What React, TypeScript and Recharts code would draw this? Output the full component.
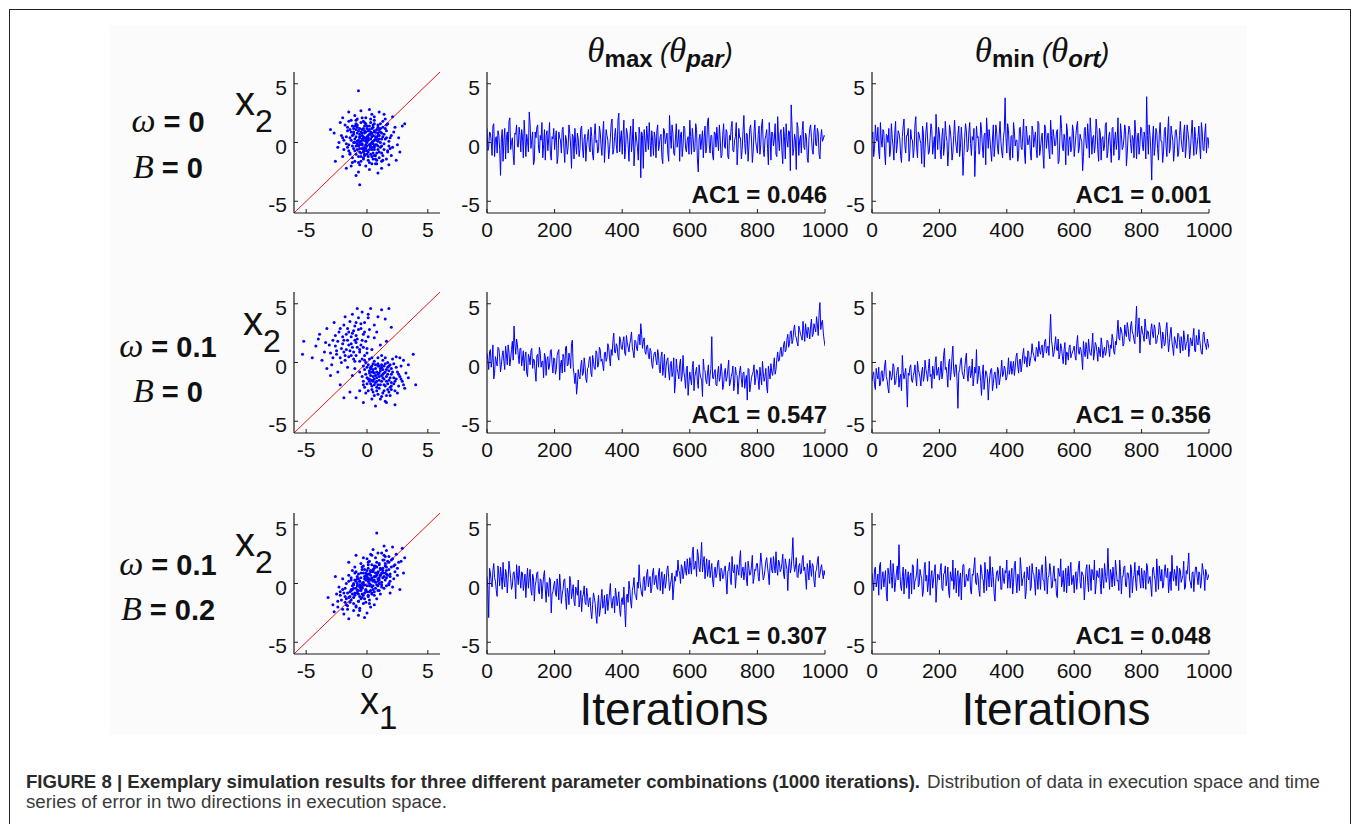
import { LineChart, Line, ScatterChart, Scatter, XAxis, YAxis, ReferenceLine } from 'recharts'

// shared ticks
const iterationTicks = [0, 200, 400, 600, 800, 1000]
const valueTicks = [-5, 0, 5]

// row parameters and lag-1 autocorrelations
const omegaValues = ['0', '0.1', '0.1']
const bValues = ['0', '0', '0.2']
const ac1Max = ['0.046', '0.547', '0.307']
const ac1Min = ['0.001', '0.356', '0.048']

// theta_max (parallel) error at iterations 0, 5, 10 ... 1000
const thetaMaxRow1 = [
  1.2, -0.4, 0.8, -1.1, 1.6, 0.3, -0.9, 0.6, -2.8, 1.1, 0.2, -1.4, 0.9, 1.8, -0.6, 0.4, -1.9, 0.7, -0.3, 1.3,
  -0.8, 0.5, 1.9, -1.2, 0.1, 2.6, -0.5, 0.9, -1.6, 0.4, 1.5, -0.9, 0.2, -1.3, 1.1, 0.6, -0.7, 1.7, -1.5, 0.3,
  -0.6, 1.0, -1.2, 0.4, -0.9, 1.3, -1.7, 0.2, -0.4, 0.8, -2.2, 0.5, 1.2, -1.0, 0.3, -0.6, 1.4, -1.3, 0.7, -0.2,
  1.1, -0.8, 0.5, -1.5, 1.6, 0.2, -0.7, 0.9, -1.1, 1.8, -0.3, 0.6, -1.4, 0.4, 2.0, -0.6, 1.2, -0.9, 2.5, 0.3,
  -1.0, 1.9, -0.5, 0.8, -1.6, 1.4, 0.1, -2.0, 0.9, -0.4, 1.3, -3.0, 0.6, 1.1, -0.8, 0.4, 1.7, -1.2, 0.2, 0.9,
  -1.3, 1.5, -0.2, 0.7, -1.8, 1.0, 0.3, -0.9, 2.3, -0.5, 0.8, -1.1, 1.6, 0.1, -1.6, 0.9, -0.3, 1.2, -0.8, 0.5,
  1.9, -1.0, 0.4, -0.6, 1.1, -2.5, 0.7, 0.2, -1.3, 1.4, -0.4, 2.1, -0.9, 0.6, -1.5, 0.8, 1.3, -0.7, 0.3, -1.1,
  1.6, -0.5, 0.9, -1.4, 0.2, 1.8, -0.8, 0.5, -1.9, 1.2, 0.4, -0.6, 2.3, -1.0, 0.7, -0.3, 1.5, -1.7, 0.9, 0.1,
  -0.9, 1.4, -0.2, 2.0, -1.2, 0.6, -0.5, 1.7, -1.5, 0.8, 0.3, -1.0, 2.2, -0.7, 1.1, -1.8, 0.5, 1.6, -0.4, 0.9,
  3.2, -1.1, 0.7, -2.3, 1.3, 0.2, -0.9, 1.8, -0.6, 0.5, -1.7, 1.2, 0.4, -1.0, 1.5, -0.3, 0.8, -1.4, 1.1, 0.3, 0.5,
]
// ... and at the half steps 2.5, 7.5 ... 997.5
const thetaMaxRow1Half = [
  -0.7, 0.9, 0.1, 1.4, -1.2, 0.5, 1.0, -0.6, 0.3, -1.6, 1.2, 0.4, -0.9, 2.1, 0.0, -1.0, 0.8, 1.5, -0.4, 0.6,
  1.1, -1.3, 0.4, 0.7, -0.8, 1.6, 0.2, -1.9, 0.9, 1.3, -0.5, 0.6, 1.7, -0.2, -1.5, 1.0, 0.3, -0.9, 0.5, 1.2,
  0.4, -1.8, 0.9, 0.2, 1.1, -0.5, 0.6, -1.0, 1.5, -0.3, 0.7, -1.4, -0.1, 0.8, -1.2, 1.2, -0.4, 0.3, -1.6, 0.5,
  -0.4, 1.3, -1.1, 0.6, 0.0, -0.9, 1.4, -0.3, 0.8, -1.7, 1.1, 0.2, -0.6, 1.6, -1.0, 0.5, -0.2, 1.9, -0.8, 1.0,
  0.6, -1.4, 1.2, -0.2, 0.4, -0.8, 2.0, -0.5, 0.3, -1.5, 0.7, 0.9, -2.2, 0.2, 1.4, -0.6, 0.1, 1.0, -1.1, 0.4,
  1.0, -0.7, 0.5, -1.3, 1.2, -0.1, 0.8, -1.6, 0.6, 1.5, -0.9, 0.3, -0.4, 1.1, 0.7, -1.2, 1.4, -0.5, 0.2, -1.0,
  0.5, 1.2, -0.8, 1.6, -1.4, 0.3, -0.6, 1.0, 0.4, -0.9, 1.8, -0.2, 0.6, -1.1, 0.9, -0.4, 0.2, 1.5, -1.3, 0.7,
  -0.3, 1.1, -1.2, 0.6, 1.3, -0.7, 0.2, 1.7, -0.5, 0.4, -1.4, 1.0, -0.1, 0.8, -1.6, 1.2, 0.3, -0.8, 1.9, -0.4,
  0.7, -1.0, 1.5, -0.6, 0.3, 1.1, -1.9, 0.5, 0.9, -0.3, 1.6, -1.2, 0.4, 0.8, -0.7, 1.3, -1.4, 0.2, 1.0, -2.4,
  1.4, -0.5, 0.2, 1.7, -1.1, 0.6, 1.0, -0.4, 0.8, -1.3, 0.3, 1.5, -0.7, 0.9, -0.2, 1.2, -1.0, 0.5, 0.1, 0.6,
]
const thetaMaxRow2 = [
  0.8, -0.6, 1.1, 0.2, -1.4, 0.5, -0.3, 1.2, -0.8, 0.6, 0.1, 1.4, -0.2, 0.9, 0.3, 1.8, 3.1, 0.7, 1.5, -0.1,
  1.2, 0.3, -0.7, 0.9, -1.2, 0.4, 1.0, -0.5, 0.2, -1.6, 0.7, 1.3, -0.4, 0.1, 0.8, -1.1, 0.5, -0.3, 1.1, -0.9,
  0.3, -0.6, 0.9, -1.5, 0.2, 0.7, -0.8, 1.4, -0.2, 0.4, 1.6, -0.4, -1.8, -2.7, -0.6, -1.4, 0.2, -0.9, -0.3, -1.7,
  -0.4, 0.5, -1.2, 0.1, -0.6, 0.8, -0.2, 1.1, 0.3, -0.7, 0.9, 0.4, 1.3, -0.3, 0.6, 2.5, 0.8, 1.4, 0.2, 1.9,
  1.1, 2.2, 0.6, 1.7, 0.9, 2.0, 1.3, 0.4, 1.8, 1.0, 2.4, 3.3, 1.2, 2.1, 0.7, 1.5, 0.3, 1.0, -0.5, 0.8,
  0.2, 1.1, -0.6, 0.5, -1.1, 0.7, -0.3, 0.4, -1.5, 0.1, -0.8, -2.6, 0.3, -0.9, -0.2, -1.6, 0.6, -1.3, -0.5, -2.8,
  -0.8, -1.9, 0.1, -1.2, -0.4, -2.2, -0.9, -1.5, 0.3, -0.7, -1.8, -0.2, -1.1, 2.2, -1.4, -0.6, -2.0, -0.3, -1.2, -0.8,
  -1.9, -0.5, -1.3, 0.2, -1.7, -0.9, -2.4, -0.4, -1.1, -1.6, -0.3, -2.1, -0.8, -1.5, -3.2, -0.6, -1.9, -1.0, -0.2, -1.4,
  -0.7, -2.3, -1.2, 0.1, -1.6, -0.5, -2.6, -0.9, -0.1, -1.1, 0.4, -0.6, 0.9, 0.2, 1.3, 0.6, 1.8, 1.1, 2.4, 1.6,
  2.7, 1.9, 3.2, 2.1, 1.4, 2.8, 2.2, 3.5, 1.8, 2.6, 3.0, 2.0, 3.7, 2.4, 2.9, 3.9, 2.3, 5.1, 3.4, 2.5, 1.4,
]
const thetaMaxRow2Half = [
  0.2, 0.9, -0.4, 1.5, -0.9, 0.1, 1.3, 0.4, -0.2, 1.0, -0.6, 0.7, 1.5, -0.3, 1.1, 0.2, 1.6, 2.0, 0.6, 1.2,
  -0.3, 1.0, 0.5, -0.9, 0.7, -0.2, 1.2, 0.3, -0.8, 0.6, -0.4, 0.9, 0.1, -1.3, 0.5, 0.2, -0.6, 1.0, -0.1, 0.4,
  -1.0, 0.6, 1.1, -0.2, -0.9, 0.4, 1.3, -0.3, 0.8, -0.5, 1.9, -1.0, -0.9, -1.9, -1.2, -0.3, -1.1, 0.4, -1.4, -0.5,
  0.3, -0.9, 0.6, -0.5, 1.0, -0.4, 1.3, 0.1, -0.2, 0.8, 0.1, 1.6, 0.4, 1.1, 1.8, 0.9, 1.6, 0.5, 2.2, 1.2,
  1.8, 0.8, 2.3, 1.3, 1.6, 2.6, 0.9, 1.9, 1.2, 2.2, 1.5, 2.4, 1.8, 0.9, 1.4, 0.6, 1.2, -0.1, 0.4, 0.9,
  -0.2, 0.6, -0.9, 0.9, -0.4, -1.3, 0.2, -0.8, -0.1, -1.2, 0.4, -1.7, -0.5, -1.4, 0.3, -1.1, -0.8, -2.2, -0.3, -1.6,
  -1.4, -0.4, -2.4, -0.8, -1.6, -0.2, -1.3, -2.9, -0.6, -1.5, -0.9, -2.0, -0.5, -1.3, -0.8, -1.9, -0.9, -1.6, -0.1, -2.3,
  -0.9, -1.6, -0.6, -2.0, -1.2, -0.3, -1.8, -1.0, -2.7, -0.7, -1.4, -0.9, -2.2, -1.1, -0.5, -2.5, -1.3, -0.8, -1.9, -0.6,
  -1.5, -0.4, -1.9, -0.9, -1.2, -2.1, -0.3, -1.4, -0.8, -0.4, -1.0, 0.3, 0.1, 1.0, 0.5, 1.5, 0.9, 2.0, 1.3, 2.6,
  1.6, 2.8, 2.3, 1.7, 3.1, 2.4, 1.9, 2.6, 3.3, 2.1, 2.7, 3.1, 2.2, 3.3, 2.6, 3.2, 4.2, 2.8, 3.6, 1.9,
]
const thetaMaxRow3 = [
  0.6, -2.9, 0.9, -0.3, 1.7, 0.2, -1.1, 0.8, 1.4, -0.5, 0.3, 1.2, -0.8, 1.9, 0.4, -0.2, 1.0, -1.3, 0.7, 1.5,
  -0.4, 0.9, 0.1, -1.2, 1.3, 0.5, -0.6, 0.8, -1.5, 0.2, 1.0, -0.9, 0.3, -0.2, 1.1, -1.6, -0.4, 0.5, -2.5, -0.7,
  0.2, -1.1, -0.3, 0.8, -1.7, -0.5, 0.4, -2.2, -0.8, 0.6, -1.3, -0.1, -1.9, -0.6, 0.3, -1.4, -2.4, -0.9, -1.6, -0.4,
  -2.0, -1.2, -3.0, -0.8, -1.7, -3.4, -1.0, -2.3, -0.5, -1.8, -2.6, -0.9, -1.5, 0.0, -2.1, -1.1, -0.4, -1.9, -0.7, -2.8,
  -1.2, -0.3, -3.7, -0.9, 0.2, -1.5, -0.6, 0.5, -1.0, 0.1, 1.6, -0.4, -1.1, 0.6, -0.2, 1.2, 0.3, -0.8, 0.9, -0.1,
  0.7, -0.5, 1.3, 0.4, -0.9, 0.8, 0.1, 1.5, -0.6, 0.3, -1.4, 0.6, 1.1, 2.0, 0.9, 1.6, 0.4, 1.9, 0.7, 1.3,
  2.2, 0.8, 3.1, 1.5, 0.6, 2.4, 1.0, 3.5, 1.8, 0.4, 2.1, 1.2, 0.5, 1.7, -0.3, 1.4, 0.8, 2.0, 0.2, 1.1,
  0.6, 1.5, -0.9, 1.2, 0.4, 2.3, 0.9, -0.4, 1.6, 0.7, 2.8, 1.0, 0.3, 1.8, -0.2, 1.3, 0.8, 2.4, 0.5, 1.1,
  1.7, 0.2, 2.6, 1.0, 0.6, 1.9, 1.4, -0.1, 2.2, 0.9, 1.5, 2.7, 0.7, 1.8, 1.2, 2.5, 0.4, 1.6, -0.6, 2.1,
  1.3, 3.9, 1.0, 2.2, 0.5, 1.7, 0.9, 2.4, 1.4, -0.5, 1.1, 2.0, 0.6, 1.5, -0.3, 1.2, 2.3, 0.8, 1.6, 0.4, 0.7,
]
const thetaMaxRow3Half = [
  -0.4, 1.3, 0.1, 1.1, 0.5, -0.6, 1.5, -0.2, 0.6, 1.8, -0.3, 0.8, 0.4, 1.2, -0.5, 0.9, 0.2, 1.6, -0.1, 0.5,
  1.0, -0.6, 0.8, 0.3, -0.4, 1.2, -1.0, 0.5, -0.2, 0.9, -0.7, 0.4, -1.3, 0.6, -0.5, 0.1, -1.1, 0.3, -0.9, -0.2,
  -0.8, 0.4, -1.4, -0.2, -0.9, 0.3, -1.2, -0.4, -1.8, 0.1, -0.7, -1.5, -0.3, -1.0, -2.0, -0.6, -1.2, -0.2, -1.8, -1.1,
  -1.4, -2.4, -1.8, -1.2, -2.7, -1.9, -2.8, -1.4, -2.1, -1.0, -1.7, -2.3, -0.8, -1.6, -1.3, -2.5, -1.0, -1.4, -2.2, -1.5,
  -1.8, -2.2, -1.1, -1.6, -0.5, -2.1, -0.2, -0.9, -1.4, -0.4, 0.2, -0.9, 0.4, -0.6, 0.8, -0.3, 0.6, -0.4, 1.3, 0.3,
  -0.3, 0.9, -0.6, 1.0, 0.2, -0.4, 1.2, 0.5, -0.1, 0.9, -0.4, 0.2, 0.6, 1.1, 0.0, 1.4, 0.9, 1.1, 2.1, 0.8,
  1.5, 2.6, 1.2, 1.9, 2.9, 1.3, 2.2, 1.0, 2.3, 1.4, 0.6, 2.0, 1.1, 0.3, 1.0, 0.5, 1.8, 0.9, 1.3, 0.4,
  1.3, 0.2, 1.0, 1.8, -0.1, 1.1, 1.6, 0.6, 1.2, 2.1, 0.5, 1.4, 1.0, 0.4, 1.9, 0.7, 1.5, 0.0, 1.2, 1.7,
  0.6, 1.4, 1.8, 0.3, 1.2, 2.2, 0.8, 1.6, 1.1, 2.3, 0.9, 1.3, 2.0, 1.0, 1.7, 0.8, 2.1, 1.2, 1.4, 0.9,
  2.4, 1.7, 1.4, 0.6, 1.5, 0.8, 2.0, 1.1, 0.5, 1.7, 0.3, 1.3, 1.7, 0.2, 1.0, 1.9, 0.5, 1.3, 0.9, 1.1,
]

// theta_min (orthogonal) error, same sampling
const thetaMinRow1 = [
  0.3, -1.2, 1.5, 0.1, -0.8, 1.7, -0.4, 0.9, -1.9, 0.6, 1.2, -0.7, 0.4, -1.5, 1.8, -0.2, 0.8, -1.1, 0.5, 2.0,
  -0.9, 0.6, -1.6, 1.1, 0.2, -0.5, 2.2, -1.3, 0.7, -0.1, 1.4, -2.1, 0.9, 0.3, -0.8, 1.6, -1.0, 0.5, 2.4, -0.6,
  0.8, -1.4, 1.2, -0.3, 0.6, -2.0, 1.5, 0.1, -0.9, 1.9, -0.4, 0.7, -1.2, 1.3, -2.8, 0.4, 1.0, -0.6, 1.7, -1.1,
  0.2, -2.9, 1.4, 0.5, -0.7, 1.1, -1.3, 0.8, 2.1, -0.5, 0.3, -1.6, 1.5, -0.2, 0.9, -1.0, 1.8, -0.8, 0.4, 3.8,
  -0.9, 1.0, -1.5, 0.6, 1.7, -0.3, 0.2, -1.1, 1.3, -0.6, 2.0, -1.8, 0.7, 0.1, -0.9, 1.4, -0.4, 0.9, -1.3, 1.6,
  -0.5, 0.8, -2.2, 1.2, 0.3, -0.7, 1.9, -1.0, 0.5, -0.2, 1.1, -1.6, 2.3, -0.4, 0.7, -1.9, 0.9, 0.2, -0.8, 1.5,
  -1.2, 0.6, 1.8, -0.5, 0.3, -2.4, 1.0, -0.1, 1.6, -1.3, 0.8, 0.4, -0.9, 2.0, -0.6, 1.2, -1.5, 0.5, -0.3, 1.7,
  -0.8, 0.9, -1.7, 1.3, 0.2, -0.6, 2.1, -1.1, 0.7, -0.4, 1.5, -2.0, 0.6, 1.1, -0.9, 0.3, 1.9, -1.4, 0.8, -0.2,
  1.2, -0.7, 0.4, 3.9, -1.0, 0.6, -3.2, 1.4, -0.3, 0.9, -1.5, 1.7, 0.1, -0.8, 1.3, -1.2, 2.2, -0.5, 0.7, -1.6,
  1.0, 0.3, -0.9, 1.8, -0.4, 0.8, -1.3, 1.5, 0.2, -0.6, 1.9, -1.1, 0.5, -0.2, 1.4, -1.4, 0.9, -0.7, 1.6, 0.4, -0.5,
]
const thetaMinRow1Half = [
  0.9, -0.5, 0.4, 1.3, -1.4, 0.2, 1.1, -0.8, 0.7, 0.0, -1.2, 1.6, -0.3, 0.8, -0.9, 1.0, 0.3, -1.7, 1.4, -0.2,
  0.6, 1.2, -0.7, 0.3, -1.3, 1.5, -0.4, 0.9, 0.2, -1.8, 0.8, -0.5, 1.7, -1.0, 0.4, 1.1, -0.2, -1.4, 0.7, 1.3,
  -0.6, 0.5, -1.1, 1.8, 0.1, -0.7, 1.0, -1.5, 0.6, 0.3, -0.9, 1.4, -0.4, 0.2, -1.2, 1.6, -0.8, 0.9, -0.1, 0.5,
  1.2, -0.6, 0.4, -1.0, 1.7, -0.3, 0.6, -1.9, 0.8, 1.1, -0.7, 0.3, -1.2, 1.5, -0.5, 0.7, 0.1, -1.3, 1.0, 0.4,
  1.6, -0.8, 0.5, -1.3, 0.9, 0.2, -1.6, 1.2, -0.4, 0.7, -0.9, 1.4, -0.2, 0.6, -1.5, 1.0, 0.4, -0.6, 1.8, -1.1,
  0.3, -1.0, 1.5, -0.5, 0.8, -1.4, 0.6, 1.1, -0.3, 0.9, -1.8, 0.4, 1.2, -0.7, 0.2, 1.6, -1.1, 0.5, -0.4, 1.0,
  -0.3, 1.4, -0.9, 0.7, 0.1, -1.2, 1.3, -0.5, 0.4, 2.1, -1.0, 0.6, -0.2, 1.1, -1.6, 0.8, 0.3, -0.7, 1.5, -1.3,
  0.5, -0.4, 1.2, -1.1, 0.9, 0.2, -1.5, 1.6, -0.6, 0.3, 1.0, -0.9, 1.4, -0.1, 0.6, -1.3, 0.8, 0.4, -1.0, 1.3,
  -0.2, 0.9, -1.4, 0.6, 1.5, -0.8, 0.3, -1.1, 1.2, -0.5, 0.7, 0.1, -1.7, 1.0, -0.3, 0.8, -0.9, 1.4, 0.2, -0.6,
  1.1, -1.2, 0.6, 0.3, -0.8, 1.5, -0.4, 0.9, -1.4, 0.7, 0.2, 1.3, -1.0, 0.5, -0.3, 1.7, -0.6, 0.8, -0.9, 0.4,
]
const thetaMinRow2 = [
  -1.6, -0.8, -2.3, -1.1, -0.4, -1.9, -0.7, -1.3, 0.2, -1.5, -2.6, -0.9, -1.2, -0.3, -1.8, -0.6, -2.1, -1.0, 0.6, -1.4,
  -0.5, -3.8, -1.1, -0.2, -1.7, -0.8, -1.3, 0.1, -0.9, -2.0, -0.4, -1.2, -0.6, -1.6, 0.3, -1.0, -0.3, -1.4, 0.5, -0.7,
  -1.5, 0.1, -0.9, 1.2, -0.4, -2.1, 0.3, -0.8, 1.4, -1.2, -0.2, -3.9, -0.6, 0.4, -1.1, -0.5, 0.8, -1.6, -0.3, -0.9,
  -2.0, -0.4, 1.1, -1.3, -0.7, -2.8, -0.2, -1.5, -0.9, -3.2, -1.1, -0.5, -1.8, -0.8, -2.2, -0.6, -1.4, 0.2, -1.0, -0.5,
  -1.3, 0.4, -0.6, -1.0, 0.1, -0.4, 0.8, -0.9, 0.3, -0.2, 1.2, 0.5, -0.4, 0.9, 0.2, 1.6, 0.6, 0.1, 1.1, 1.8,
  0.7, 1.5, 0.9, 2.0, 1.2, 0.6, 4.1, 1.4, 0.8, 2.2, 1.0, 0.3, 1.6, 0.5, 1.1, -0.2, 0.8, 1.3, 0.4, 0.9,
  1.4, 0.2, 2.3, 0.7, 1.1, -0.6, 0.9, 1.7, 0.3, 1.2, 0.6, 2.5, 0.8, 1.5, 0.1, 1.0, 2.1, 0.4, 1.3, 0.9,
  1.8, 0.5, 1.2, 2.0, 0.7, 1.5, 3.6, 1.9, 2.8, 1.4, 3.2, 2.2, 2.9, 1.8, 3.5, 2.4, 1.6, 4.8, 2.7, 0.8,
  3.1, 2.3, 3.7, 2.0, 2.6, 1.5, 3.3, 2.1, 2.9, 1.7, 2.4, 3.0, 1.2, 2.2, 1.6, 3.4, 0.9, 2.5, 1.8, 0.6,
  1.9, 1.2, 2.4, 0.8, 1.6, 2.7, 1.1, 1.8, 0.5, 2.1, 1.4, 2.9, 0.9, 1.7, 2.8, 1.3, 0.7, 2.6, 1.5, 2.0, 1.2,
]
const thetaMinRow2Half = [
  -1.1, -1.9, -0.5, -1.4, -2.0, -0.8, -1.6, -0.3, -1.2, -2.2, -0.7, -1.5, -0.1, -1.9, -1.1, -0.4, -1.3, -2.4, -0.8, -1.0,
  -1.9, -0.9, -0.4, -1.5, -1.1, -0.2, -2.0, -0.6, -1.3, -0.8, -1.6, 0.2, -1.0, -0.5, -1.2, -2.2, -0.8, 0.0, -1.1, -0.4,
  -0.8, -1.4, 0.6, -0.6, -1.0, -0.1, -1.5, 0.5, -0.7, -0.2, -1.6, -0.9, 0.1, -0.8, -1.4, 0.2, -1.0, -0.4, -1.3, 0.3,
  -1.3, -0.9, -1.8, -0.3, -1.6, -1.0, -2.3, -0.7, -1.4, -1.9, -0.6, -2.4, -1.0, -1.5, -0.4, -1.9, -0.8, -1.2, -0.3, -1.5,
  -0.7, -1.0, 0.1, -0.5, -1.1, 0.5, -0.3, 0.2, -0.8, 0.7, -0.1, 0.4, 1.0, -0.3, 0.6, 0.9, 0.2, 1.3, 0.5, 1.0,
  1.3, 0.4, 1.8, 0.8, 1.4, 2.4, 1.9, 0.5, 1.5, 1.1, 2.0, 0.7, 1.2, -0.1, 1.7, 0.9, 0.2, 1.5, 0.7, 1.1,
  0.6, 1.6, 0.9, 1.3, 0.4, 1.8, 0.5, 1.1, 2.0, 0.7, 1.4, 0.2, 1.7, 0.9, 1.3, 0.5, 1.5, 1.0, 0.6, 1.9,
  1.2, 1.5, 2.4, 0.9, 1.8, 2.6, 2.1, 3.0, 2.3, 1.6, 2.5, 3.4, 2.0, 3.1, 2.6, 1.9, 3.3, 2.2, 3.8, 2.4,
  2.6, 1.8, 3.0, 2.7, 1.9, 2.8, 2.4, 3.2, 1.6, 2.3, 3.4, 2.0, 2.6, 1.4, 2.9, 2.1, 1.7, 3.0, 1.2, 2.2,
  1.5, 2.5, 1.7, 2.2, 1.0, 2.0, 1.6, 2.4, 1.2, 1.8, 2.2, 1.0, 2.3, 1.5, 1.9, 0.8, 2.4, 1.7, 1.1, 1.6,
]
const thetaMinRow3 = [
  0.9, -0.6, 1.4, 0.2, -1.0, 1.8, 0.5, -0.3, 1.1, -1.5, 0.7, 2.0, -0.4, 0.8, 0.1, 1.5, 3.3, -0.2, 0.6, -0.9,
  1.2, 0.3, -1.3, 0.9, 1.6, -0.5, 0.4, 2.1, -0.1, 0.7, -1.1, 1.3, 0.2, -0.7, 1.9, 0.5, -0.4, 1.0, -1.6, 0.8,
  0.3, 1.7, -0.6, 0.9, -0.2, 1.4, -1.2, 0.6, 2.0, 0.1, -0.8, 1.1, 0.4, -1.4, 1.6, -0.3, 0.8, 0.2, 1.3, -0.9,
  0.7, 2.2, -0.1, 0.5, -1.1, 1.2, 0.3, 1.8, -0.6, 0.9, 2.3, -0.3, 0.6, -1.5, 1.0, 0.2, 1.5, -0.5, 0.4, 1.1,
  2.0, 0.6, -0.4, 1.3, 0.1, 1.9, -0.8, 0.7, 2.2, -0.2, 0.5, -1.3, 1.4, 0.3, -0.6, 1.7, 0.8, -1.0, 0.4, 1.2,
  -0.5, 1.6, 0.2, 2.3, -0.9, 0.7, 1.1, -0.3, 1.5, 0.4, -1.2, 0.9, 2.1, 0.1, -0.7, 1.3, 0.6, -0.2, 1.8, 0.3,
  -0.8, 1.0, 0.5, 1.9, -0.4, 0.8, -1.4, 1.2, 0.2, 1.6, -0.6, 0.9, 2.0, -0.1, 0.6, 1.3, -0.9, 0.4, 1.7, 0.1,
  3.0, -0.5, 0.8, 1.4, -0.2, 1.1, 0.3, 2.0, -0.9, 0.6, 1.5, -0.3, 0.9, -1.2, 1.2, 0.4, 1.8, -0.6, 0.7, 0.2,
  1.3, -0.4, 0.9, 1.7, 0.0, 0.6, -1.1, 1.4, 0.3, 2.1, -0.5, 0.8, 1.2, -0.2, 1.6, 0.5, -0.8, 1.0, 2.4, 0.2,
  0.7, 1.5, -0.6, 1.1, 0.4, 1.9, -0.3, 0.8, 2.6, 0.1, 0.9, -0.7, 1.4, 0.5, 1.0, -0.4, 1.7, 0.6, 1.2, 0.3, 0.8,
]
const thetaMinRow3Half = [
  0.2, 1.2, -0.3, 0.8, 1.5, -0.5, 1.0, 0.4, -0.8, 1.3, 0.0, 0.6, 1.7, -0.7, 0.9, 0.3, 1.1, -0.6, 1.4, 0.5,
  -0.4, 1.0, 0.6, -0.9, 1.5, 0.2, 0.9, -0.3, 1.2, 0.4, -0.6, 1.8, 0.7, 0.1, -1.0, 1.1, 0.3, 1.6, -0.2, 0.6,
  1.1, -0.4, 0.8, 1.5, 0.3, -0.7, 1.0, 0.2, -0.5, 1.3, 0.6, -1.1, 0.9, 0.4, 1.6, -0.2, 0.5, 1.2, -0.6, 0.8,
  1.4, 0.1, 0.9, -0.6, 1.6, 0.4, -0.8, 0.8, 1.2, -0.3, 0.6, 1.4, -0.9, 0.3, 1.1, 0.7, -0.5, 1.3, 0.0, 0.9,
  -0.4, 1.1, 0.5, -0.9, 1.6, 0.2, 0.8, -0.6, 1.3, 0.4, 1.0, -0.7, 0.6, 1.5, -0.3, 0.9, 0.1, 1.4, -0.5, 0.7,
  1.2, 0.3, -0.6, 1.0, 0.5, 1.7, -0.4, 0.8, 0.2, -1.0, 1.3, 0.6, -0.3, 1.1, 0.4, -0.8, 1.5, 0.9, -0.1, 0.7,
  0.4, -0.5, 1.4, 0.1, 1.0, 0.6, -0.2, 1.6, -0.7, 0.8, 1.2, 0.3, -0.9, 1.1, 0.5, 0.0, 1.3, -0.4, 0.9, 0.6,
  0.8, 1.2, -0.3, 0.5, 2.0, 0.2, -0.6, 1.0, 0.6, 1.4, -0.2, 0.9, 0.3, 1.6, -0.8, 0.7, 0.1, 1.1, 1.5, -0.4,
  0.5, 1.1, -0.5, 1.4, 0.3, -0.2, 1.2, 0.7, -0.7, 0.9, 1.5, 0.2, -0.4, 1.0, 0.6, 1.3, 0.1, -0.6, 0.8, 1.2,
  -0.2, 0.9, 1.3, 0.1, 0.7, -0.5, 1.1, 1.6, 0.3, -0.4, 1.0, 0.5, 1.4, -0.1, 0.8, 0.2, 1.2, -0.6, 0.9, 0.5,
]

// execution-space samples [x1, x2]
const scatterRow1 = [
  [-0.3, 0.5], [0.8, -0.2], [-1.1, 0.9], [0.2, 1.4], [1.5, 0.3], [-0.6, -0.8], [0.4, -1.2], [-1.7, -0.1], [0.9, 0.8], [-0.2, -0.4],
  [1.2, -0.9], [-0.9, 1.6], [0.1, 0.2], [-1.4, 0.4], [0.6, 1.9], [1.9, -0.5], [-0.5, -1.6], [0.3, -0.1], [-0.8, 0.1], [1.1, 1.2],
  [-2.1, 0.6], [0.7, -1.8], [-0.1, 2.1], [2.2, 0.9], [-1.2, -1.3], [0.5, 0.6], [-0.4, 1.1], [1.6, -1.4], [-1.8, 1.5], [0.0, -0.7],
  [1.3, 0.5], [-0.7, -0.3], [0.2, -2.3], [-1.5, -0.7], [2.5, -0.2], [-0.2, 0.8], [0.9, -0.6], [-1.0, 2.3], [0.4, 0.0], [1.7, 1.6],
  [-2.4, -0.4], [0.6, -0.4], [-0.6, 0.4], [1.0, 2.6], [-1.3, -2.0], [0.1, 1.0], [2.0, -1.1], [-0.9, -1.0], [0.7, 0.3], [-0.3, -1.3],
  [1.4, -0.1], [-1.6, 1.0], [0.3, 1.7], [-0.1, -2.0], [2.6, 0.4], [-2.0, -1.2], [0.8, 1.1], [-0.5, 2.7], [1.8, -1.9], [-1.1, 0.0],
  [0.5, -0.9], [-0.8, 1.3], [1.1, 0.0], [-0.4, -0.5], [0.0, 0.5], [2.3, 1.3], [-2.7, 0.8], [0.9, -2.6], [-0.7, -2.5], [1.5, 2.0],
  [-1.9, 0.2], [0.2, -0.6], [-0.2, 1.4], [0.6, 0.9], [-1.3, 1.9], [1.3, -1.5], [-0.6, -1.9], [2.9, 1.4], [-3.0, 1.1], [0.4, 2.4],
  [-0.8, -0.6], [1.2, 0.8], [-1.4, -0.9], [0.7, -1.1], [0.0, 1.2], [-0.3, 0.2], [1.9, 0.4], [-1.0, -1.6], [0.1, -1.5], [-2.2, 1.7],
  [-0.7, 4.4], [-0.6, -3.6], [3.1, 1.6], [-2.6, -1.6], [1.7, -0.7], [0.3, 0.7], [-1.5, 2.6], [2.1, 2.2], [-0.1, -0.2], [0.8, -1.5],
  [-1.7, -2.2], [1.0, 0.6], [-0.5, 0.9], [0.5, 1.3], [-1.2, 0.6], [1.6, 1.0], [-0.9, -2.8], [0.2, 2.8], [2.4, -1.5], [-2.3, 0.0],
  [0.6, 0.2], [-0.2, -1.0], [1.1, -0.4], [-1.1, 1.2], [0.9, 1.5], [-0.4, -0.1], [1.4, 2.4], [-2.0, 2.1], [0.4, -1.8], [-1.6, -0.4],
  [0.0, 0.0], [0.7, -0.2], [-0.6, 0.7], [1.8, 0.1], [-0.3, 1.8], [0.3, -0.4], [-1.0, 0.3], [1.2, -2.2], [-0.8, 2.0], [2.7, -0.8],
  [0.1, 0.4], [-0.5, 0.1], [0.5, -0.1], [-0.1, 0.9], [0.3, 0.3], [-0.9, 0.5], [0.8, 0.4], [-0.3, -0.8], [0.6, -0.6], [-0.7, 1.0],
  [1.0, -0.8], [-1.2, -0.3], [0.2, 1.1], [-0.4, 0.6], [0.9, 0.1], [-0.1, -0.5], [0.4, 0.8], [-0.6, -0.2], [1.3, 1.3], [-1.4, 1.1],
  [0.3, -0.3], [-0.6, 1.2], [1.0, 0.3], [-1.0, -0.7], [0.5, 1.5], [-0.2, -1.1], [1.4, 0.7], [-1.3, 0.2], [0.7, -1.4], [-0.4, 0.3],
  [0.2, 0.7], [-0.9, -0.3], [1.2, -0.3], [-0.5, 1.7], [0.8, -0.9], [-1.1, 0.7], [0.0, -0.3], [1.6, 0.4], [-0.7, -1.2], [0.4, 1.2],
  [-0.1, 0.3], [0.6, -1.1], [-1.5, -0.2], [1.1, 1.6], [-0.3, -0.6], [0.9, 0.6], [-0.8, 0.8], [0.1, -0.8], [-1.2, 1.4], [1.7, -0.8],
  [0.5, 0.1], [-0.6, -0.5], [0.3, 2.0], [-1.9, -0.6], [1.3, -1.1], [-0.2, 1.0], [0.7, 0.5], [-1.0, 0.0], [0.2, -1.7], [-0.4, 2.1],
  [2.0, 0.6], [-1.6, 1.3], [0.6, 1.0], [-0.3, -1.4], [1.0, -1.3], [-0.9, 1.1], [0.4, -0.6], [-0.1, 1.6], [1.5, 1.2], [-1.4, -1.0],
  [0.8, 0.2], [-0.5, -0.9], [0.1, 0.6], [-0.7, 0.2], [1.2, 0.3], [-0.2, -0.7], [0.6, 1.6], [-1.1, -0.5], [1.8, -0.3], [-0.8, 1.5],
  [0.3, -1.0], [-0.4, 0.8], [0.9, -0.3], [-1.3, 0.9], [0.0, 1.4], [0.5, -1.4], [-0.6, 0.0], [1.4, -0.6], [-0.2, 0.4], [0.7, 0.9],
  [-1.7, 0.5], [1.1, 0.9], [-0.5, -1.2], [0.2, -0.2], [-0.9, 1.9], [1.6, 1.5], [-0.3, 1.2], [0.8, -1.8], [-1.2, -1.7], [0.4, 0.5],
  [2.1, -0.4], [-2.0, 0.4], [0.6, 2.2], [-0.7, -1.7], [1.3, 1.8], [-1.5, 1.8], [0.1, -1.2], [-0.4, -0.2], [1.0, 1.1], [-0.1, 0.1],
  [0.3, 0.9], [-0.8, -0.1], [0.6, -0.3], [-0.2, 1.7], [1.2, -1.6], [-1.0, 1.4], [0.0, -1.0], [0.9, 1.3], [-0.6, 0.5], [0.4, -0.4],
]
const scatterRow2 = [
  [0.5, -0.8], [1.2, -1.1], [0.9, -0.3], [0.2, -1.4], [1.6, -0.6], [0.7, -1.7], [1.4, -1.9], [0.3, -0.5], [2.0, -1.0], [1.0, -2.2],
  [0.6, 0.1], [1.8, -1.5], [-0.1, -1.0], [1.1, -0.7], [2.4, -0.4], [0.4, -2.0], [1.5, -0.1], [0.8, -1.3], [2.2, -1.8], [-0.3, -1.6],
  [1.3, -2.6], [0.1, -0.2], [1.9, -0.2], [0.9, -1.9], [2.7, -1.2], [0.5, -2.5], [1.7, -2.3], [-0.2, -2.1], [1.2, -0.4], [2.5, -0.8],
  [0.3, -1.1], [1.0, -1.5], [0.7, -0.5], [1.6, -1.2], [2.1, 0.3], [0.0, -1.8], [1.4, -0.9], [0.6, -2.8], [2.9, -1.6], [0.2, -0.7],
  [1.1, -3.1], [1.8, -0.7], [0.4, -1.5], [2.3, -2.4], [-0.4, -1.2], [1.3, 0.2], [0.8, -0.8], [1.7, -1.8], [0.5, -1.2], [2.6, -2.0],
  [1.5, -3.3], [2.0, -0.5], [0.9, -0.1], [-0.1, -2.6], [1.2, -1.6], [3.2, -0.9], [0.6, -1.9], [1.9, -2.8], [0.1, -1.4], [2.8, -0.3],
  [2.3, -3.6], [1.6, -3.4], [4.0, -1.9], [3.8, 0.7], [3.4, -1.3], [3.0, 0.2], [2.4, 0.5], [-0.6, -2.4], [-0.9, -3.0], [-1.9, -3.0],
  [0.7, -3.7], [1.0, -0.9], [1.4, -1.4], [0.4, -0.3], [1.7, 0.0], [2.2, -1.3], [0.0, -0.4], [0.8, -2.4], [1.3, -1.0], [2.0, -2.0],
  [-1.2, 1.3], [-0.8, 2.0], [-1.9, 0.9], [-0.5, 1.5], [-2.4, 1.8], [-1.5, 2.6], [-0.9, 0.6], [-2.8, 0.4], [-1.0, 3.1], [-0.3, 2.4],
  [-1.7, 1.1], [-2.2, 2.9], [-0.6, 0.9], [-1.3, 2.2], [-3.1, 1.5], [-0.2, 3.4], [-1.8, 0.2], [-0.7, 3.8], [-2.6, 2.3], [-1.1, 0.3],
  [-0.4, 4.3], [0.3, 4.6], [0.9, 3.9], [0.6, 3.2], [1.2, 4.5], [0.2, 2.8], [-1.4, 3.5], [1.5, 3.7], [0.8, 2.6], [-0.1, 1.8],
  [-2.0, 1.6], [-1.6, -0.4], [-2.9, -0.2], [-3.5, 0.9], [-4.2, 1.4], [-4.5, 0.4], [-5.2, 1.8], [-5.3, 0.7], [-3.9, 2.4], [-2.4, -0.8],
  [-1.0, -0.5], [-0.4, 0.3], [-1.5, 0.5], [-0.9, 1.7], [-2.1, 0.0], [-0.2, 0.6], [-1.2, -1.1], [-3.3, 2.9], [-1.9, 3.2], [0.4, 1.1],
  [1.8, 4.6], [2.0, 3.0], [1.6, 1.8], [0.1, 3.8], [-0.8, 4.6], [1.1, 1.5], [-0.5, 2.9], [-2.5, 1.0], [-1.6, 1.9], [-0.2, 0.2],
  [-3.0, -1.1], [-2.2, -1.9], [-1.4, -2.5], [0.4, 0.4], [-0.6, -0.8], [-1.8, 3.9], [0.6, 2.1], [-2.7, 3.4], [-1.1, 2.7], [0.0, 1.2],
  [0.9, -1.0], [1.3, -0.6], [0.5, -1.6], [1.7, -1.0], [0.2, -0.9], [1.1, -1.9], [2.1, -0.8], [0.7, -0.2], [1.5, -2.0], [0.3, -1.8],
  [1.9, -1.3], [0.8, -1.6], [1.2, -0.2], [0.0, -1.3], [2.3, -1.6], [0.6, -0.9], [1.4, -2.4], [1.8, -0.3], [0.4, -2.3], [2.6, -1.0],
  [1.0, -1.2], [1.6, -1.6], [0.3, -0.4], [2.0, -2.3], [0.9, -2.7], [1.3, -1.3], [2.4, -1.4], [0.1, -2.4], [1.7, -0.4], [0.6, -1.4],
  [1.1, -0.5], [2.2, -0.1], [0.8, -2.1], [1.5, -0.8], [-0.2, -0.6], [1.9, -2.1], [0.5, -0.6], [2.8, -1.4], [1.2, -2.9], [0.2, -1.6],
  [1.0, -0.3], [1.6, -2.8], [0.7, -1.1], [2.5, -2.6], [-0.3, -1.9], [1.4, -0.3], [2.0, -1.7], [0.4, -0.8], [3.0, -1.9], [1.8, -2.5],
  [-1.3, 1.6], [-0.9, 2.3], [-2.1, 1.2], [-0.6, 1.1], [-1.7, 2.4], [-1.1, 0.9], [-2.5, 0.7], [-0.4, 1.9], [-1.5, 1.5], [-2.3, 2.6],
  [-0.8, 1.3], [-1.9, 1.9], [-0.2, 2.6], [-1.3, 0.6], [-2.8, 1.9], [-0.7, 2.8], [-1.6, 2.9], [-1.0, 1.9], [-3.4, 1.7], [0.1, 2.2],
  [-2.0, 2.2], [-1.4, 1.0], [-0.5, 3.3], [-2.6, 1.4], [-1.2, 2.5], [-0.3, 1.3], [-1.8, 0.6], [-3.0, 0.8], [-0.9, 3.4], [-2.2, 0.4],
  [0.5, -0.1], [-0.1, 0.0], [0.2, 0.3], [-0.6, 0.1], [0.9, 0.4], [1.5, 0.4], [-1.0, 0.1], [0.0, 0.8], [-0.3, -0.3], [1.2, 0.6],
  [-3.7, 0.2], [-4.0, 2.0], [-3.3, -0.5], [2.7, 0.4], [3.4, -0.2], [3.1, -2.2], [0.4, -3.1], [-0.3, -3.4], [0.1, 4.1], [-1.2, 4.1],
]
const scatterRow3 = [
  [0.2, 0.4], [-0.8, -0.6], [1.1, 1.3], [-0.3, 0.1], [0.7, 0.9], [-1.4, -1.1], [1.6, 0.8], [-0.5, -1.3], [0.4, 1.6], [-1.0, 0.3],
  [0.9, -0.2], [-1.8, -1.6], [1.3, 2.0], [-0.1, -0.5], [0.5, 0.2], [-1.2, -0.2], [2.0, 1.4], [-0.7, 0.8], [0.1, -1.0], [1.8, 2.3],
  [-2.1, -1.4], [0.6, -0.7], [-0.4, 1.2], [1.0, 0.5], [-1.6, -0.8], [2.3, 1.0], [-0.9, -1.9], [0.3, 1.1], [1.4, -0.4], [-0.2, 0.6],
  [-2.5, -0.9], [0.8, 1.8], [-1.1, -2.3], [1.9, 0.2], [-0.6, -0.1], [0.0, 2.1], [1.2, 0.1], [-1.5, 0.7], [2.6, 1.8], [-0.3, -1.7],
  [0.4, -0.3], [-2.0, -2.2], [1.5, 1.5], [-0.8, 0.4], [0.9, 2.6], [-1.3, -0.5], [2.1, -0.3], [0.2, -1.4], [-0.5, 1.7], [1.7, 0.7],
  [-2.8, -1.8], [0.6, 0.6], [-1.0, -1.0], [2.4, 2.5], [-0.2, -0.8], [1.1, -0.9], [-1.7, 0.0], [0.5, 2.9], [1.3, 0.9], [-0.7, -2.7],
  [3.0, 0.9], [-2.3, -0.3], [0.1, 0.8], [1.6, 2.8], [-1.2, 1.1], [0.8, -1.3], [-0.4, -0.3], [2.2, 0.4], [-1.9, -2.6], [0.3, -2.0],
  [0.8, 4.3], [-3.2, -1.2], [3.1, 2.2], [-2.6, 0.6], [2.7, -0.5], [-0.9, 2.4], [1.4, 3.2], [-1.5, -3.0], [0.0, -2.5], [2.9, 3.0],
  [-0.6, 0.2], [0.7, 0.1], [-1.3, -1.4], [1.0, 1.7], [-0.1, 0.9], [0.4, -0.9], [-0.9, -0.4], [1.5, 0.3], [-2.2, -1.0], [0.2, 1.9],
  [1.8, 1.2], [-0.4, -1.2], [0.6, 1.3], [-1.6, -1.9], [1.2, -0.1], [-0.3, 1.5], [2.0, 2.0], [-1.1, 0.0], [0.9, 0.4], [-0.7, -0.9],
  [0.3, 0.3], [-0.2, -0.1], [1.1, 0.7], [-0.8, 0.6], [0.5, -0.5], [-1.4, -0.7], [1.7, 1.9], [-0.5, -0.6], [0.0, 0.5], [1.3, 1.1],
  [-1.8, -0.4], [2.5, 1.3], [-0.3, 2.2], [0.8, -0.1], [-1.0, 1.4], [1.9, -0.8], [-2.4, -2.0], [0.4, 2.4], [-0.6, -2.1], [1.0, -0.6],
  [0.1, 1.3], [-1.2, -0.9], [2.3, 1.6], [-0.9, 1.0], [0.7, 1.5], [-0.1, -1.6], [1.5, 2.3], [-2.0, 0.4], [0.2, -0.2], [-0.5, 0.9],
  [1.2, 2.6], [-1.7, -1.3], [0.6, -1.8], [2.8, 1.9], [-0.4, 0.0], [0.9, 1.0], [-1.3, 0.5], [1.6, -0.2], [-0.7, -1.5], [0.3, 0.7],
  [-2.7, -2.4], [2.1, 3.1], [-0.2, -2.9], [1.4, 0.6], [-1.5, 1.8], [0.5, 1.0], [-0.8, -0.2], [1.8, 0.0], [-1.1, -1.7], [0.0, -0.7],
  [0.1, 0.2], [-0.6, -0.3], [0.8, 0.7], [-0.2, 0.4], [0.5, 1.2], [-1.0, -0.8], [1.2, 0.9], [-0.4, -0.9], [0.3, 1.0], [-0.8, 0.0],
  [0.7, -0.4], [-1.5, -1.2], [1.0, 1.6], [0.0, -0.2], [0.4, 0.5], [-1.1, -0.4], [1.6, 1.1], [-0.5, 0.5], [0.2, -0.7], [1.4, 2.0],
  [-1.8, -1.1], [0.5, -0.2], [-0.3, 0.9], [0.9, 0.2], [-1.3, -0.6], [1.9, 0.8], [-0.7, -1.5], [0.2, 0.8], [1.2, -0.3], [-0.1, 0.7],
  [-2.2, -0.7], [0.6, 1.5], [-0.9, -2.0], [1.6, 0.5], [-0.5, -0.4], [0.1, 1.8], [1.0, 0.3], [-1.3, 0.3], [2.2, 1.5], [-0.2, -1.3],
  [0.3, -0.1], [-1.7, -1.8], [1.3, 1.3], [-0.6, 0.2], [0.7, 2.2], [-1.1, -0.1], [1.8, -0.1], [0.1, -1.1], [-0.4, 1.4], [1.5, 0.9],
  [-2.4, -1.5], [0.4, 0.4], [-0.8, -0.8], [2.1, 2.1], [-0.1, -0.6], [0.9, -0.6], [-1.5, 0.2], [0.3, 2.5], [1.1, 0.7], [-0.6, -2.3],
  [2.5, 0.7], [-2.0, -0.5], [0.0, 0.6], [1.4, 2.4], [-1.0, 0.9], [0.6, -1.0], [-0.3, -0.1], [1.9, 0.6], [-1.6, -2.2], [0.2, -1.7],
  [-0.5, -0.2], [0.6, 0.3], [-1.1, -1.2], [0.8, 1.4], [0.0, 1.1], [0.3, -0.6], [-0.7, -0.6], [1.3, 0.5], [-1.9, -0.8], [0.1, 1.6],
  [1.6, 1.4], [-0.3, -1.0], [0.5, 1.1], [-1.4, -1.6], [1.0, 0.0], [-0.2, 1.2], [1.8, 1.8], [-0.9, 0.2], [0.7, 0.6], [-0.6, -1.1],
  [0.2, 0.0], [-0.1, 0.3], [0.9, 0.9], [-0.7, 0.4], [0.4, -0.8], [-1.2, -0.5], [1.5, 1.7], [-0.4, -0.4], [0.1, 0.4], [1.1, 1.2],
]

const scatterRows = [scatterRow1, scatterRow2, scatterRow3]
const thetaMaxRows = [[thetaMaxRow1, thetaMaxRow1Half], [thetaMaxRow2, thetaMaxRow2Half], [thetaMaxRow3, thetaMaxRow3Half]]
const thetaMinRows = [[thetaMinRow1, thetaMinRow1Half], [thetaMinRow2, thetaMinRow2Half], [thetaMinRow3, thetaMinRow3Half]]

// layout (px)
const ROW_TOP = [72, 292, 513]
const PLOT_H = 141
const COL_LEFT = [294, 487, 872]
const COL_W = [146, 338, 337]
const OMEGA_Y = [132, 357, 575]
const B_Y = [178, 402, 620]
const X2_LEFT = [235, 243, 235]

const SANS = '"Liberation Sans", Arial, Helvetica, sans-serif'
const SERIF = '"Liberation Serif", "Times New Roman", serif'
const AXIS = '#1c1c1c'
const BLUE = '#0000ff'

const axisLine = { stroke: AXIS, strokeWidth: 1.2 }

// merge the whole-step and half-step samples into one iteration-ordered table
function toSeries(whole: number[], half: number[]) {
  const rows: { it: number; v: number }[] = []
  whole.forEach((v, i) => {
    rows.push({ it: i * 5, v })
    if (i < half.length) rows.push({ it: i * 5 + 2.5, v: half[i] })
  })
  return rows
}

// MATLAB-style ticks: short marks pointing into the plot
function BottomTick(props: any) {
  const { x, y, payload } = props
  return (
    <g>
      <line x1={x} x2={x} y1={y} y2={y - 4} stroke={AXIS} strokeWidth={1} />
      <text x={x} y={y + 24} textAnchor="middle" fontFamily={SANS} fontSize={21} fill="#111">
        {payload.value}
      </text>
    </g>
  )
}

function LeftTick(props: any) {
  const { x, y, payload } = props
  return (
    <g>
      <line x1={x} x2={x + 4} y1={y} y2={y} stroke={AXIS} strokeWidth={1} />
      <text x={x - 7} y={y + 11} textAnchor="end" fontFamily={SANS} fontSize={21} fill="#111">
        {payload.value}
      </text>
    </g>
  )
}

function Dot(props: any) {
  const { cx, cy } = props
  return <circle cx={cx} cy={cy} r={1.5} fill={BLUE} />
}

const chartMargin = { top: 10, right: 40, bottom: 10, left: 10 }

function ScatterPanel({ row }: { row: number }) {
  const data = scatterRows[row].map(([x, y]) => ({ x, y }))
  const w = COL_W[0]
  return (
    <div style={{ position: 'absolute', left: COL_LEFT[0] - 50, top: ROW_TOP[row] - 10 }}>
      <ScatterChart width={w + 90} height={PLOT_H + 50} margin={chartMargin}>
        <XAxis type="number" dataKey="x" domain={[-6, 6]} ticks={valueTicks} height={30}
          axisLine={axisLine} tickLine={false} tickSize={0} tickMargin={0} tick={BottomTick} allowDataOverflow />
        <YAxis type="number" dataKey="y" domain={[-6, 6]} ticks={valueTicks} width={40}
          axisLine={axisLine} tickLine={false} tickSize={0} tickMargin={0} tick={LeftTick} allowDataOverflow />
        <Scatter data={data} shape={Dot} isAnimationActive={false} />
        <ReferenceLine segment={[{ x: -6, y: -6 }, { x: 6, y: 6 }]} stroke="#e3191c" strokeWidth={1} />
      </ScatterChart>
    </div>
  )
}

function SeriesPanel({ row, col, samples }: { row: number; col: number; samples: number[][] }) {
  const data = toSeries(samples[0], samples[1])
  const w = COL_W[col]
  return (
    <div style={{ position: 'absolute', left: COL_LEFT[col] - 50, top: ROW_TOP[row] - 10 }}>
      <LineChart width={w + 90} height={PLOT_H + 50} data={data} margin={chartMargin}>
        <XAxis type="number" dataKey="it" domain={[0, 1000]} ticks={iterationTicks} interval={0} height={30}
          axisLine={axisLine} tickLine={false} tickSize={0} tickMargin={0} tick={BottomTick} allowDataOverflow />
        <YAxis type="number" domain={[-6, 6]} ticks={valueTicks} width={40}
          axisLine={axisLine} tickLine={false} tickSize={0} tickMargin={0} tick={LeftTick} allowDataOverflow />
        <Line type="linear" dataKey="v" stroke={BLUE} strokeWidth={1} dot={false} isAnimationActive={false} />
      </LineChart>
    </div>
  )
}

function ThetaTitle({ x, sub, inner }: { x: number; sub: string; inner: string }) {
  return (
    <text x={x} y={62} textAnchor="middle" fill="#111">
      <tspan fontFamily={SERIF} fontStyle="italic" fontSize={35}>θ</tspan>
      <tspan fontFamily={SANS} fontWeight="bold" fontSize={24} dy={5}>{sub}</tspan>
      <tspan fontFamily={SANS} fontStyle="italic" fontSize={27} dy={-5}> (</tspan>
      <tspan fontFamily={SERIF} fontStyle="italic" fontSize={35}>θ</tspan>
      <tspan fontFamily={SANS} fontWeight="bold" fontStyle="italic" fontSize={24} dy={5}>{inner}</tspan>
      <tspan fontFamily={SANS} fontStyle="italic" fontSize={27} dy={-5}>)</tspan>
    </text>
  )
}

export default function App() {
  return (
    <div style={{ position: 'absolute', left: 0, top: 0, width: 1356, height: 824, background: '#fff', overflow: 'hidden' }}>
      <svg width={1356} height={824} style={{ position: 'absolute', left: 0, top: 0 }}>
        <rect x={110} y={25} width={1137} height={710} fill="#fbfbfb" />
        <rect x={9.5} y={9.5} width={1341} height={900} fill="none" stroke="#222" strokeWidth={1} />
      </svg>

      {[0, 1, 2].map((r) => (
        <div key={r}>
          <ScatterPanel row={r} />
          <SeriesPanel row={r} col={1} samples={thetaMaxRows[r]} />
          <SeriesPanel row={r} col={2} samples={thetaMinRows[r]} />
        </div>
      ))}

      <svg width={1356} height={824} style={{ position: 'absolute', left: 0, top: 0, pointerEvents: 'none' }}>
        <ThetaTitle x={660} sub="max" inner="par" />
        <ThetaTitle x={1042} sub="min" inner="ort" />

        {[0, 1, 2].map((r) => (
          <g key={r}>
            <text x={168} y={OMEGA_Y[r]} textAnchor="middle" fill="#111">
              <tspan fontFamily={SERIF} fontStyle="italic" fontSize={34}>ω</tspan>
              <tspan fontFamily={SANS} fontWeight="bold" fontSize={29}>{` = ${omegaValues[r]}`}</tspan>
            </text>
            <text x={168} y={B_Y[r]} textAnchor="middle" fill="#111">
              <tspan fontFamily={SERIF} fontStyle="italic" fontSize={34}>B</tspan>
              <tspan fontFamily={SANS} fontWeight="bold" fontSize={29}>{` = ${bValues[r]}`}</tspan>
            </text>
            <text x={X2_LEFT[r]} y={ROW_TOP[r] + 43} fill="#111" fontFamily={SANS}>
              <tspan fontSize={40}>x</tspan>
              <tspan fontSize={32} dy={17}>2</tspan>
            </text>
            <text x={COL_LEFT[1] + COL_W[1] + 2} y={ROW_TOP[r] + 131} textAnchor="end"
              fontFamily={SANS} fontWeight="bold" fontSize={24} fill="#111">
              {`AC1 = ${ac1Max[r]}`}
            </text>
            <text x={COL_LEFT[2] + COL_W[2] + 2} y={ROW_TOP[r] + 131} textAnchor="end"
              fontFamily={SANS} fontWeight="bold" fontSize={24} fill="#111">
              {`AC1 = ${ac1Min[r]}`}
            </text>
          </g>
        ))}

        <text x={360} y={714} fill="#111" fontFamily={SANS}>
          <tspan fontSize={38}>x</tspan>
          <tspan fontSize={33} dy={15}>1</tspan>
        </text>
        <text x={674} y={725} textAnchor="middle" fontFamily={SANS} fontSize={46} fill="#111">Iterations</text>
        <text x={1056} y={725} textAnchor="middle" fontFamily={SANS} fontSize={46} fill="#111">Iterations</text>

        <text x={26} y={788} fontFamily={SANS} fontWeight="bold" fontSize={18} fill="#2a2a2a"
          textLength={894} lengthAdjust="spacingAndGlyphs">
          FIGURE 8 | Exemplary simulation results for three different parameter combinations (1000 iterations).
        </text>
        <text x={927} y={788} fontFamily={SANS} fontSize={18} fill="#3a3a3a"
          textLength={393} lengthAdjust="spacingAndGlyphs">
          Distribution of data in execution space and time
        </text>
        <text x={26} y={808} fontFamily={SANS} fontSize={18} fill="#3a3a3a"
          textLength={421} lengthAdjust="spacingAndGlyphs">
          series of error in two directions in execution space.
        </text>
      </svg>
    </div>
  )
}
